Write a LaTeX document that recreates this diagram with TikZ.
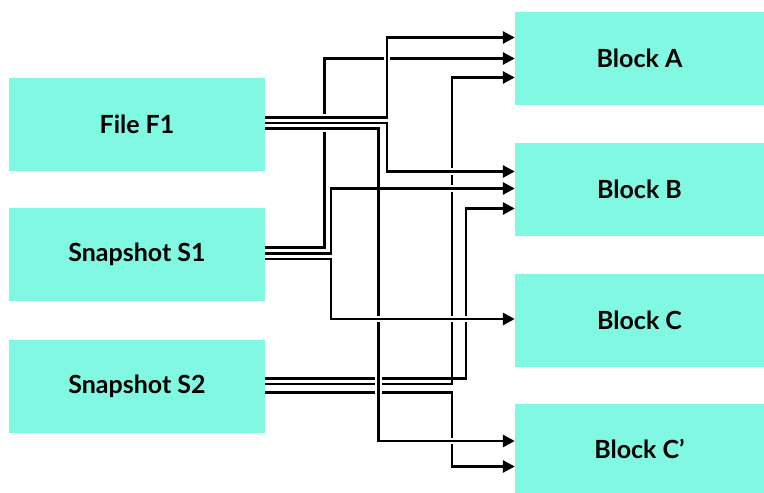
\documentclass[tikz,border=0pt]{standalone}
\usepackage{fontspec}
\setmainfont{Lato}
\usetikzlibrary{arrows.meta}
\definecolor{boxc}{RGB}{128,248,226}
\begin{document}
\begin{tikzpicture}[x=1pt,y=-1pt,
  box/.style={fill=boxc, draw=none, minimum width=256pt, minimum height=93pt, inner sep=0pt, font=\bfseries\fontsize{25}{30}\selectfont},
  rbox/.style={box, minimum width=249pt},
  conn/.style={line width=2.8pt, -{Triangle[length=12pt,width=12pt]}},
  cased/.style={conn, preaction={draw=white, line width=6.8pt, -}},
  casing/.style={draw=white, line width=6.8pt},
]
\useasboundingbox (0,0) rectangle (764,493);
% boxes
\node[box] (F1) at (137,124.5) {File F1};
\node[box] (S1) at (137,254) {Snapshot S1};
\node[box] (S2) at (137,386) {Snapshot S2};
\node[rbox] (A) at (639.5,58.5) {Block A};
\node[rbox] (B) at (639.5,189.5) {Block B};
\node[rbox] (C) at (639.5,320) {Block C};
\node[rbox, minimum height=89pt] (Cp) at (639.5,448.5) {Block C’};
% ports
\coordinate (f1) at ([yshift=7pt]F1.east);
\coordinate (f2) at ([yshift=1.5pt]F1.east);
\coordinate (f3) at ([yshift=-4pt]F1.east);
\coordinate (s1) at ([yshift=6.5pt]S1.east);
\coordinate (s2) at ([yshift=0.5pt]S1.east);
\coordinate (s3) at ([yshift=-5pt]S1.east);
\coordinate (t1) at ([yshift=7.5pt]S2.east);
\coordinate (t2) at ([yshift=2pt]S2.east);
\coordinate (t3) at ([yshift=-6.5pt]S2.east);
\coordinate (a1) at ([yshift=21pt]A.west);
\coordinate (a2) at ([yshift=0pt]A.west);
\coordinate (a3) at ([yshift=-19pt]A.west);
\coordinate (b1) at ([yshift=18pt]B.west);
\coordinate (b2) at ([yshift=1pt]B.west);
\coordinate (b3) at ([yshift=-19pt]B.west);
\coordinate (c1) at ([yshift=1pt]C.west);
\coordinate (d1) at ([yshift=7.5pt]Cp.west);
\coordinate (d2) at ([yshift=-18pt]Cp.west);
% columns
\coordinate (kF) at (387,0);
\coordinate (kF3) at (378.5,0);
\coordinate (kS1) at (324.5,0);
\coordinate (kS) at (331,0);
\coordinate (kT1) at (466,0);
\coordinate (kT) at (452,0);
% Snapshot S2 connectors
\draw[conn] (t1) -| (kT1 |- b3) -- (b3);
\draw[conn] (t2) -| (kT |- a3) -- (a3);
\draw[conn] (t3) -| (kT |- d2) -- (d2);
% Snapshot S1, first connector
\draw[cased] (s1) -| (kS1 |- a2) -- (a2);
% File F1 connectors
\draw[cased] (f1) -| (kF |- a1) -- (a1);
\draw[cased] (f2) -| (kF |- b1) -- (b1);
\draw[cased] (f3) -| (kF3 |- d1) -- (d1);
% Snapshot S1, other connectors
\draw[casing] ([xshift=-95pt]b2) -- (b2);
\draw[conn] (s2) -| (kS |- b2) -- (b2);
\draw[cased] (s3) -| (kS |- c1) -- (c1);
\end{tikzpicture}
\end{document}
